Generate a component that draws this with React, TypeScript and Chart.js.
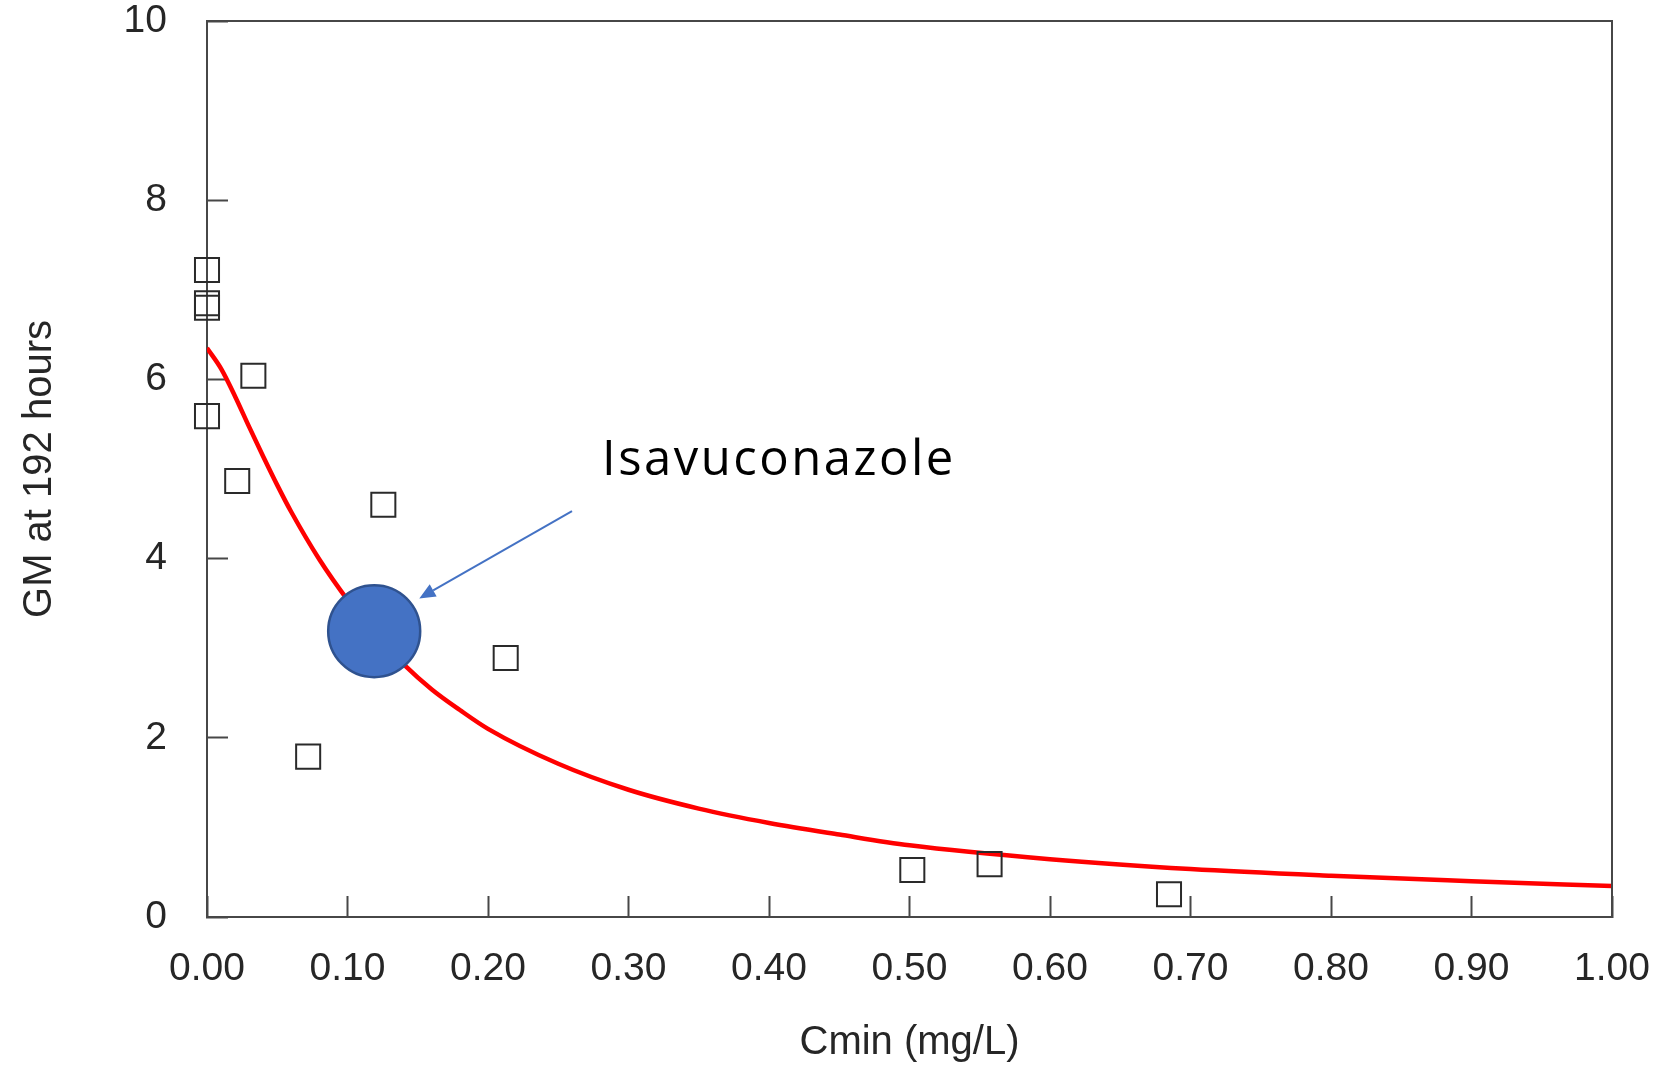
import React, { useEffect, useRef } from 'react';
import { Chart, registerables } from 'chart.js';

Chart.register(...registerables);

// ---------- data ----------
const X_MIN = 0;
const X_MAX = 1;
const X_STEP = 0.1;
const Y_MIN = 0;
const Y_MAX = 10;
const Y_STEP = 2;

const X_TITLE = 'Cmin (mg/L)';
const Y_TITLE = 'GM at 192 hours';

// fitted curve (red line)
const CURVE_X = [0, 0.01, 0.02, 0.03, 0.04, 0.05, 0.06, 0.08, 0.10, 0.12, 0.14, 0.16, 0.18, 0.20, 0.25, 0.30, 0.35, 0.40, 0.45, 0.50, 0.60, 0.70, 0.80, 0.90, 1.00];
const CURVE_Y = [6.35, 6.12, 5.81, 5.47, 5.14, 4.82, 4.52, 3.99, 3.54, 3.15, 2.82, 2.54, 2.31, 2.10, 1.71, 1.42, 1.21, 1.05, 0.92, 0.80, 0.645, 0.535, 0.46, 0.40, 0.345];

// observed points (open squares)
const SQUARE_X = [0, 0, 0, 0, 0.0215, 0.033, 0.072, 0.1255, 0.2126, 0.502, 0.557, 0.6847];
const SQUARE_Y = [7.22, 6.85, 6.80, 5.59, 4.865, 6.04, 1.79, 4.60, 2.89, 0.524, 0.59, 0.253];

// highlighted drug (blue circle)
const CIRCLE_X = [0.119];
const CIRCLE_Y = [3.19];

// annotation (data units)
const LABEL_TEXT = 'Isavuconazole';
const LABEL_AT = [0.2811, 4.93];
const ARROW_FROM = [0.2598, 4.53];
const ARROW_TO = [0.1511, 3.556];

// ---------- styles ----------
const AXIS_COLOR = '#474747';
const TEXT_COLOR = '#262626';
const FONT = '"Liberation Sans", Arial, sans-serif';

const overlayPlugin = {
  id: 'overlay',
  afterDatasetsDraw(chart: any) {
    const { ctx, chartArea, scales } = chart;
    const xs = scales.x;
    const ys = scales.y;
    ctx.save();
    // top and right frame lines
    ctx.strokeStyle = AXIS_COLOR;
    ctx.lineWidth = 2;
    ctx.beginPath();
    ctx.moveTo(chartArea.left, chartArea.top);
    ctx.lineTo(chartArea.right, chartArea.top);
    ctx.lineTo(chartArea.right, chartArea.bottom);
    ctx.stroke();

    // arrow
    const x1 = xs.getPixelForValue(ARROW_FROM[0]);
    const y1 = ys.getPixelForValue(ARROW_FROM[1]);
    const x2 = xs.getPixelForValue(ARROW_TO[0]);
    const y2 = ys.getPixelForValue(ARROW_TO[1]);
    const ang = Math.atan2(y2 - y1, x2 - x1);
    const headLen = 16;
    const halfW = 7;
    const bx = x2 - headLen * Math.cos(ang);
    const by = y2 - headLen * Math.sin(ang);
    ctx.strokeStyle = '#4472C4';
    ctx.fillStyle = '#4472C4';
    ctx.lineWidth = 2;
    ctx.beginPath();
    ctx.moveTo(x1, y1);
    ctx.lineTo(bx, by);
    ctx.stroke();
    ctx.beginPath();
    ctx.moveTo(x2, y2);
    ctx.lineTo(bx - halfW * Math.sin(ang), by + halfW * Math.cos(ang));
    ctx.lineTo(bx + halfW * Math.sin(ang), by - halfW * Math.cos(ang));
    ctx.closePath();
    ctx.fill();

    // label
    ctx.fillStyle = '#000000';
    ctx.font = '49px "Open Sans", "Noto Sans", sans-serif';
    try { (ctx as any).letterSpacing = '2.5px'; } catch (e) {}
    ctx.textAlign = 'left';
    ctx.textBaseline = 'alphabetic';
    ctx.fillText(LABEL_TEXT, xs.getPixelForValue(LABEL_AT[0]), ys.getPixelForValue(LABEL_AT[1]));
    ctx.restore();
  },
};

export default function App() {
  const ref = useRef<HTMLCanvasElement | null>(null);

  useEffect(() => {
    if (!ref.current) return;
    const chart = new Chart(ref.current, {
      type: 'scatter',
      data: {
        datasets: [
          {
            label: 'Isavuconazole',
            data: CIRCLE_X.map((x, i) => ({ x, y: CIRCLE_Y[i] })),
            pointStyle: 'circle',
            pointRadius: 46,
            backgroundColor: '#4472C4',
            borderColor: '#2F528F',
            borderWidth: 2.5,
            order: 0,
            clip: false,
          } as any,
          {
            label: 'Observed',
            data: SQUARE_X.map((x, i) => ({ x, y: SQUARE_Y[i] })),
            pointStyle: 'rect',
            pointRadius: 17,
            backgroundColor: 'rgba(0,0,0,0)',
            borderColor: '#2a2a2a',
            borderWidth: 2,
            order: 1,
            clip: false,
          } as any,
          {
            label: 'Model',
            type: 'line',
            data: CURVE_X.map((x, i) => ({ x, y: CURVE_Y[i] })),
            borderColor: '#FF0000',
            borderWidth: 4.5,
            pointRadius: 0,
            fill: false,
            cubicInterpolationMode: 'monotone',
            order: 2,
          } as any,
        ],
      },
      options: {
        responsive: false,
        animation: false,
        events: [],
        layout: { autoPadding: false, padding: { left: 0, top: 21, right: 46, bottom: 0 } },
        plugins: {
          legend: { display: false },
          tooltip: { enabled: false },
        },
        scales: {
          x: {
            type: 'linear',
            min: X_MIN,
            max: X_MAX,
            afterFit: (s: any) => { s.height = 150; s.paddingLeft = 0; s.paddingRight = 0; },
            border: { display: true, color: AXIS_COLOR, width: 2 },
            grid: {
              drawOnChartArea: false,
              drawTicks: true,
              tickLength: -21,
              tickWidth: 2,
              tickColor: AXIS_COLOR,
            },
            ticks: {
              stepSize: X_STEP,
              autoSkip: false,
              maxRotation: 0,
              padding: 50,
              color: TEXT_COLOR,
              font: { family: FONT, size: 39, lineHeight: 1.2 },
              callback: (v: any) => Number(v).toFixed(2),
            },
            title: {
              display: true,
              text: X_TITLE,
              color: TEXT_COLOR,
              font: { family: FONT, size: 40, lineHeight: 1.2 },
              padding: { top: 0, bottom: 0 },
            },
          },
          y: {
            type: 'linear',
            min: Y_MIN,
            max: Y_MAX,
            afterFit: (s: any) => { s.width = 207; s.paddingTop = 0; s.paddingBottom = 0; },
            border: { display: true, color: AXIS_COLOR, width: 2 },
            grid: {
              drawOnChartArea: false,
              drawTicks: true,
              tickLength: -21,
              tickWidth: 2,
              tickColor: AXIS_COLOR,
            },
            ticks: {
              stepSize: Y_STEP,
              padding: 61,
              color: TEXT_COLOR,
              font: { family: FONT, size: 39, lineHeight: 1.2 },
            },
            title: {
              display: true,
              text: Y_TITLE,
              color: TEXT_COLOR,
              font: { family: FONT, size: 40, lineHeight: 1.2 },
              padding: { top: 16, bottom: 0 },
            },
          },
        },
      },
      plugins: [overlayPlugin],
    });
    return () => chart.destroy();
  }, []);

  return (
    <div style={{ position: 'absolute', left: 0, top: 0, width: 1658, height: 1067, background: '#ffffff' }}>
      <canvas ref={ref} width={1658} height={1067} style={{ display: 'block', width: 1658, height: 1067 }} />
    </div>
  );
}
